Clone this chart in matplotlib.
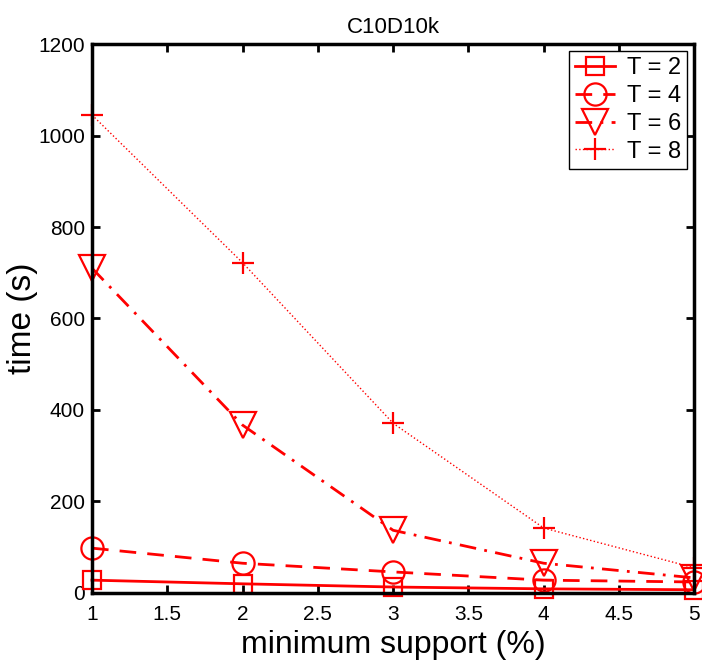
import numpy as np
import matplotlib
matplotlib.use('Agg')
import matplotlib.pyplot as plt

plt.rcParams['font.family'] = ['Liberation Sans', 'DejaVu Sans']

support = [1, 2, 3, 4, 5]
t2 = [28, 20, 13, 9, 7]
t4 = [98, 65, 46, 28, 24]
t6 = [710, 367, 137, 65, 33]
t8 = [1045, 722, 371, 142, 55]
labels = ['T = 2', 'T = 4', 'T = 6', 'T = 8']

fig = plt.figure(figsize=(7.02, 6.67), dpi=100)
ax = fig.add_axes([0.131, 0.111, 0.858, 0.823])

ax.plot(support, t2, 'r-s', lw=2, ms=13, mfc='none', mew=1.6, label=labels[0], clip_on=False)
ax.plot(support, t4, 'r--o', lw=2, ms=16, mfc='none', mew=1.6, label=labels[1], clip_on=False,
        dashes=(6, 4))
ax.plot(support, t6, 'r-.v', lw=2, ms=19, mfc='none', mew=1.6, label=labels[2], clip_on=False,
        dashes=(6, 3, 1, 3))
ax.plot(support, t8, 'r:+', lw=1, ms=16, mew=1.6, label=labels[3], clip_on=False)

ax.set_xlim(1, 5)
ax.set_ylim(0, 1200)
ax.set_xticks([1, 1.5, 2, 2.5, 3, 3.5, 4, 4.5, 5])
ax.set_xticklabels(['1', '1.5', '2', '2.5', '3', '3.5', '4', '4.5', '5'])
ax.set_yticks(range(0, 1201, 200))

for s in ax.spines.values():
    s.set_linewidth(2.5)
ax.tick_params(direction='in', length=6, width=2, labelsize=15, top=True, right=True)
ax.tick_params(axis='x', pad=9)
ax.tick_params(axis='y', pad=5)

ax.set_xlabel('minimum support (%)', fontsize=23, labelpad=4)
ax.set_ylabel('time (s)', fontsize=24, labelpad=0)
ax.set_title('C10D10k', fontsize=16, pad=8)

leg = ax.legend(loc='upper right', fontsize=17, fancybox=False, edgecolor='black',
                framealpha=1, handlelength=1.7, borderpad=0.25, labelspacing=0.25,
                handletextpad=0.5, borderaxespad=0.3)
leg.get_frame().set_linewidth(1)

fig.savefig('out.png', dpi=100)
